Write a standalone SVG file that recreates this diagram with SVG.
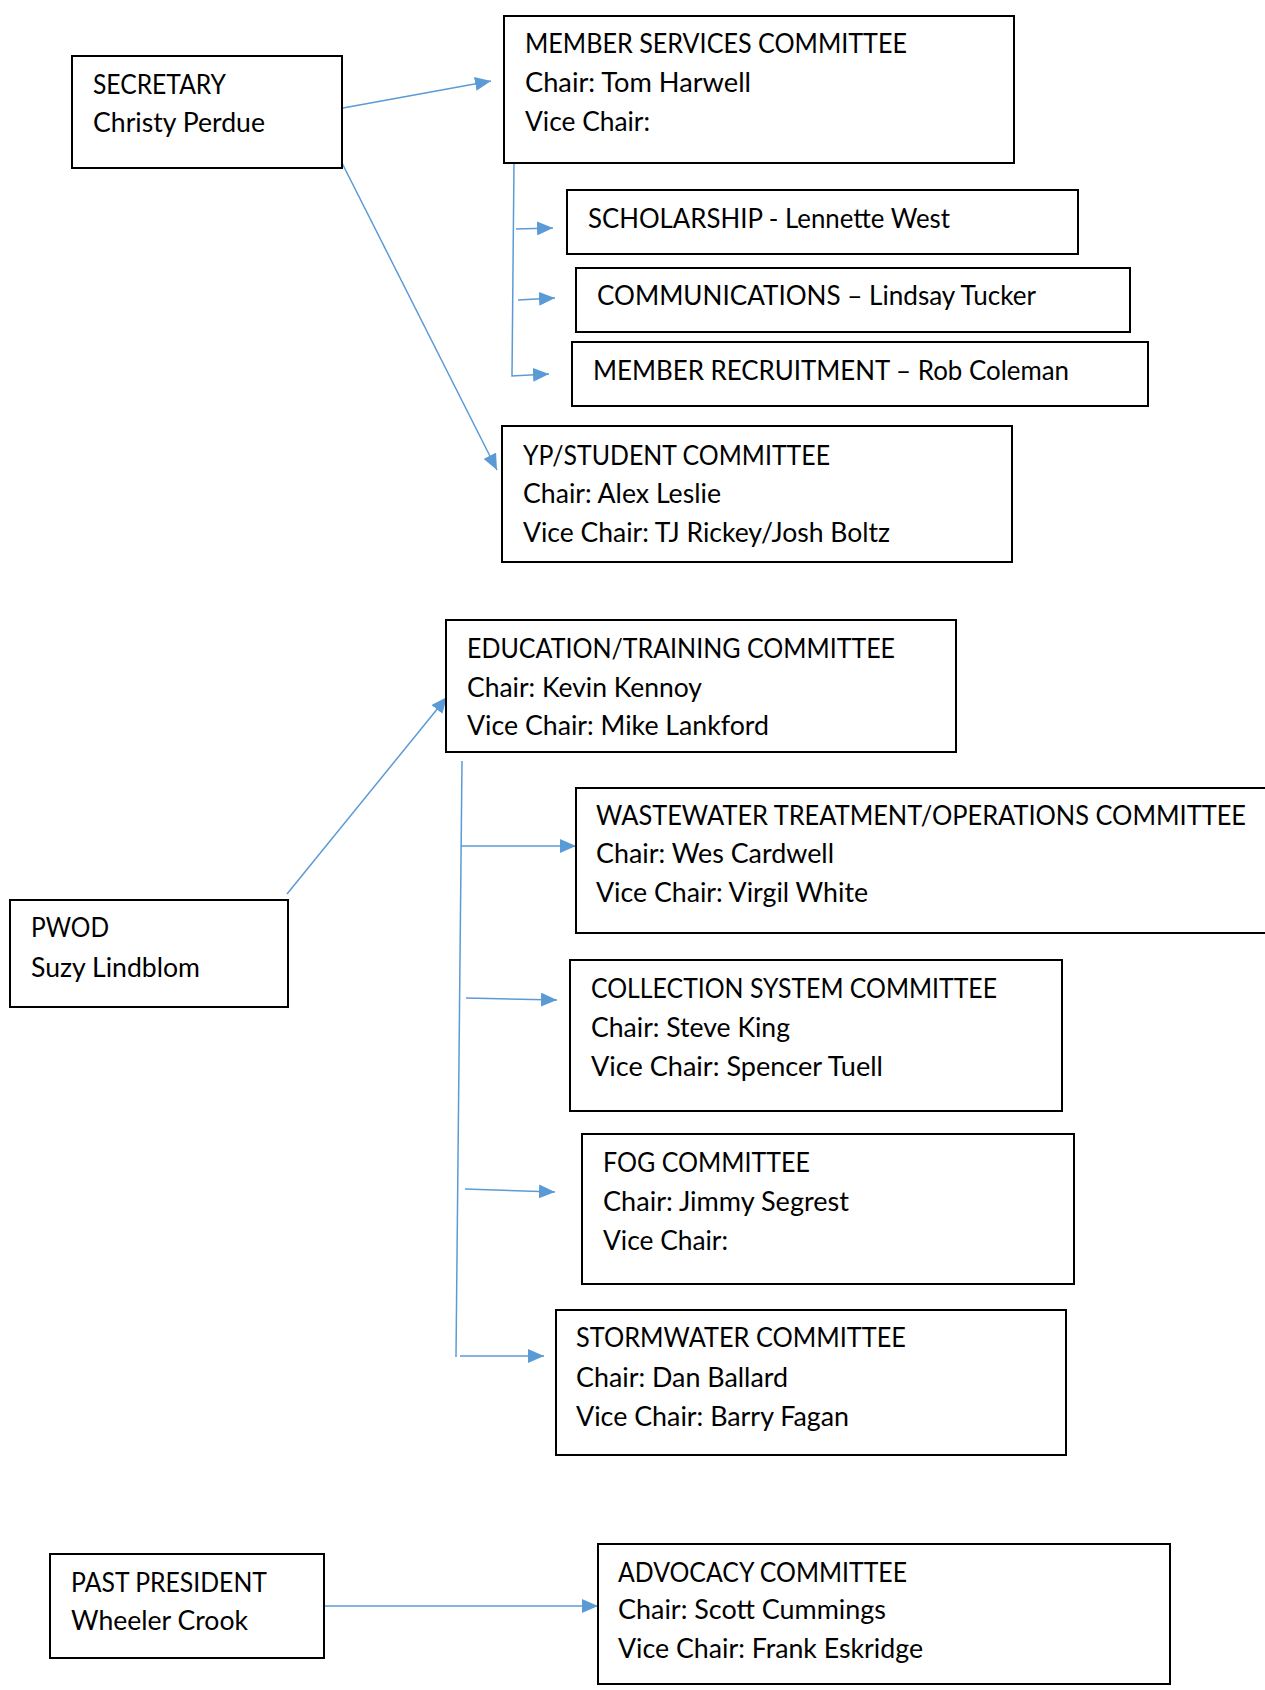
<svg xmlns="http://www.w3.org/2000/svg" width="1265" height="1690" viewBox="0 0 1265 1690">
<style>
.box{fill:#fff;stroke:#000;stroke-width:2}
.t{font-family:Lato,"Liberation Sans",sans-serif;font-size:26px;fill:#000}
.c{stroke:#5B9BD5;stroke-width:1.5;fill:none}
</style>
<defs>
<marker id="ah" markerUnits="userSpaceOnUse" markerWidth="16" markerHeight="14" refX="16" refY="7" orient="auto">
<path d="M0,0 L16,7 L0,14 z" fill="#5B9BD5"/>
</marker>
</defs>
<rect width="1265" height="1690" fill="#fff"/>
<g id="connectors">
<path class="c" d="M343,108 L491,81" marker-end="url(#ah)"/>
<path class="c" d="M342,163 L497,470" marker-end="url(#ah)"/>
<path class="c" d="M514,162 L512,376 L549,374" marker-end="url(#ah)"/>
<path class="c" d="M516,229 L553,228" marker-end="url(#ah)"/>
<path class="c" d="M518,300 L555,298" marker-end="url(#ah)"/>
<path class="c" d="M287,894 L447,697" marker-end="url(#ah)"/>
<path class="c" d="M462,761 L456,1357"/>
<path class="c" d="M461,846 L576,846" marker-end="url(#ah)"/>
<path class="c" d="M466,998 L557,1000" marker-end="url(#ah)"/>
<path class="c" d="M465,1189 L555,1192" marker-end="url(#ah)"/>
<path class="c" d="M460,1356 L544,1356" marker-end="url(#ah)"/>
<path class="c" d="M324,1606 L598,1606" marker-end="url(#ah)"/>
</g>
<g id="secretary">
<rect class="box" x="72" y="56" width="270" height="112"/>
<text class="t" x="93" y="94" textLength="133" lengthAdjust="spacingAndGlyphs">SECRETARY</text>
<text class="t" x="93" y="132" textLength="172" lengthAdjust="spacingAndGlyphs">Christy Perdue</text>
</g>
<g id="member-services">
<rect class="box" x="504" y="16" width="510" height="147"/>
<text class="t" x="525" y="53" textLength="382" lengthAdjust="spacingAndGlyphs">MEMBER SERVICES COMMITTEE</text>
<text class="t" x="525" y="92" textLength="226" lengthAdjust="spacingAndGlyphs">Chair: Tom Harwell</text>
<text class="t" x="525" y="131" textLength="125" lengthAdjust="spacingAndGlyphs">Vice Chair:</text>
</g>
<g id="scholarship">
<rect class="box" x="567" y="190" width="511" height="64"/>
<text class="t" x="588" y="228" textLength="362" lengthAdjust="spacingAndGlyphs">SCHOLARSHIP - Lennette West</text>
</g>
<g id="communications">
<rect class="box" x="576" y="268" width="554" height="64"/>
<text class="t" x="597" y="305" textLength="439" lengthAdjust="spacingAndGlyphs">COMMUNICATIONS – Lindsay Tucker</text>
</g>
<g id="member-recruitment">
<rect class="box" x="572" y="342" width="576" height="64"/>
<text class="t" x="593" y="380" textLength="476" lengthAdjust="spacingAndGlyphs">MEMBER RECRUITMENT – Rob Coleman</text>
</g>
<g id="yp-student">
<rect class="box" x="502" y="426" width="510" height="136"/>
<text class="t" x="523" y="465" textLength="307" lengthAdjust="spacingAndGlyphs">YP/STUDENT COMMITTEE</text>
<text class="t" x="523" y="503" textLength="198" lengthAdjust="spacingAndGlyphs">Chair: Alex Leslie</text>
<text class="t" x="523" y="542" textLength="367" lengthAdjust="spacingAndGlyphs">Vice Chair: TJ Rickey/Josh Boltz</text>
</g>
<g id="education-training">
<rect class="box" x="446" y="620" width="510" height="132"/>
<text class="t" x="467" y="658" textLength="428" lengthAdjust="spacingAndGlyphs">EDUCATION/TRAINING COMMITTEE</text>
<text class="t" x="467" y="697" textLength="235" lengthAdjust="spacingAndGlyphs">Chair: Kevin Kennoy</text>
<text class="t" x="467" y="735" textLength="302" lengthAdjust="spacingAndGlyphs">Vice Chair: Mike Lankford</text>
</g>
<g id="wastewater">
<rect class="box" x="576" y="788" width="720" height="145"/>
<text class="t" x="596" y="825" textLength="650" lengthAdjust="spacingAndGlyphs">WASTEWATER TREATMENT/OPERATIONS COMMITTEE</text>
<text class="t" x="596" y="863" textLength="238" lengthAdjust="spacingAndGlyphs">Chair: Wes Cardwell</text>
<text class="t" x="596" y="902" textLength="272" lengthAdjust="spacingAndGlyphs">Vice Chair: Virgil White</text>
</g>
<g id="pwod">
<rect class="box" x="10" y="900" width="278" height="107"/>
<text class="t" x="31" y="937" textLength="78" lengthAdjust="spacingAndGlyphs">PWOD</text>
<text class="t" x="31" y="977" textLength="169" lengthAdjust="spacingAndGlyphs">Suzy Lindblom</text>
</g>
<g id="collection-system">
<rect class="box" x="570" y="960" width="492" height="151"/>
<text class="t" x="591" y="998" textLength="406" lengthAdjust="spacingAndGlyphs">COLLECTION SYSTEM COMMITTEE</text>
<text class="t" x="591" y="1037" textLength="199" lengthAdjust="spacingAndGlyphs">Chair: Steve King</text>
<text class="t" x="591" y="1076" textLength="292" lengthAdjust="spacingAndGlyphs">Vice Chair: Spencer Tuell</text>
</g>
<g id="fog">
<rect class="box" x="582" y="1134" width="492" height="150"/>
<text class="t" x="603" y="1172" textLength="207" lengthAdjust="spacingAndGlyphs">FOG COMMITTEE</text>
<text class="t" x="603" y="1211" textLength="246" lengthAdjust="spacingAndGlyphs">Chair: Jimmy Segrest</text>
<text class="t" x="603" y="1250" textLength="125" lengthAdjust="spacingAndGlyphs">Vice Chair:</text>
</g>
<g id="stormwater">
<rect class="box" x="556" y="1310" width="510" height="145"/>
<text class="t" x="576" y="1347" textLength="330" lengthAdjust="spacingAndGlyphs">STORMWATER COMMITTEE</text>
<text class="t" x="576" y="1387" textLength="212" lengthAdjust="spacingAndGlyphs">Chair: Dan Ballard</text>
<text class="t" x="576" y="1426" textLength="273" lengthAdjust="spacingAndGlyphs">Vice Chair: Barry Fagan</text>
</g>
<g id="past-president">
<rect class="box" x="50" y="1554" width="274" height="104"/>
<text class="t" x="71" y="1592" textLength="196" lengthAdjust="spacingAndGlyphs">PAST PRESIDENT</text>
<text class="t" x="71" y="1630" textLength="177" lengthAdjust="spacingAndGlyphs">Wheeler Crook</text>
</g>
<g id="advocacy">
<rect class="box" x="598" y="1544" width="572" height="140"/>
<text class="t" x="618" y="1582" textLength="289" lengthAdjust="spacingAndGlyphs">ADVOCACY COMMITTEE</text>
<text class="t" x="618" y="1619" textLength="268" lengthAdjust="spacingAndGlyphs">Chair: Scott Cummings</text>
<text class="t" x="618" y="1658" textLength="305" lengthAdjust="spacingAndGlyphs">Vice Chair: Frank Eskridge</text>
</g>
</svg>
